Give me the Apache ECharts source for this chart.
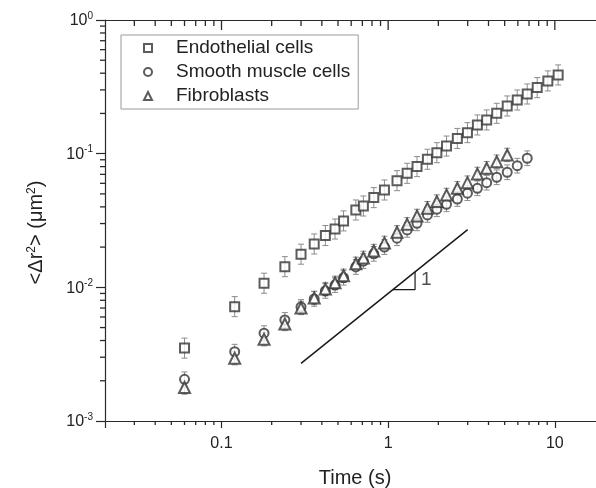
<!DOCTYPE html>
<html><head><meta charset="utf-8">
<script src="https://cdn.jsdelivr.net/npm/echarts@6/dist/echarts.min.js"></script>
<style>html,body{margin:0;padding:0;background:#fff}#c{width:596px;height:488px}</style>
</head><body><div id="c"></div>
<script>
// ---- data ----
const times = [0.06, 0.12, 0.18, 0.24, 0.30, 0.36, 0.42, 0.48, 0.54, 0.64, 0.71, 0.82, 0.95, 1.13, 1.3, 1.49, 1.72, 1.96, 2.24, 2.6, 2.99, 3.43, 3.9, 4.48, 5.18, 5.95, 6.83, 7.84, 9.08, 10.47];
const endothelial = [0.00351, 0.00717, 0.01073, 0.01428, 0.0177, 0.0211, 0.0244, 0.0273, 0.0314, 0.0379, 0.0406, 0.0469, 0.0535, 0.0628, 0.0713, 0.080, 0.0908, 0.1017, 0.114, 0.130, 0.1436, 0.164, 0.1787, 0.2004, 0.2274, 0.252, 0.2796, 0.312, 0.350, 0.388];
const smoothMuscle = [0.00205, 0.0033, 0.00454, 0.0057, 0.00713, 0.00819, 0.0094, 0.0104, 0.0118, 0.0142, 0.0157, 0.0178, 0.0200, 0.0233, 0.0269, 0.0301, 0.0348, 0.0384, 0.0418, 0.0458, 0.0506, 0.0551, 0.0607, 0.0666, 0.0726, 0.0813, 0.0924];
const fibroblasts = [0.00178, 0.00295, 0.00409, 0.00532, 0.00701, 0.00833, 0.0097, 0.0108, 0.0122, 0.0150, 0.0166, 0.0187, 0.0215, 0.0258, 0.0296, 0.0342, 0.0391, 0.0438, 0.0491, 0.0551, 0.0607, 0.0705, 0.0778, 0.0871, 0.0978];
// error bar half-widths, in decades
const errEndothelial = 0.075;
const errSmoothMuscle = 0.055;
const errFibroblasts = 0.05;
const seriesNames = ['Endothelial cells', 'Smooth muscle cells', 'Fibroblasts'];
const slopeLine = [[0.3, 0.0027], [3, 0.027]];
const slopeTriangle = [[1.07, 0.0096], [1.45, 0.0096], [1.45, 0.0131]];
const slopeLabel = [[1.45, 0.0113]];
const xMin = 0.02, xMax = 20, yMin = 0.001, yMax = 1;
const xTickLabels = {0.1: '0.1', 1: '1', 10: '10'};
const xMajorTicks = [0.1, 1, 10];

const xMinorTicks = [];
[0.01, 0.1, 1, 10].forEach(d => { for (let k = 2; k <= 9; k++) { const v = +(k * d).toPrecision(3); if (v > xMin && v < xMax) xMinorTicks.push(v); } });
const yMinorTicks = [];
[0.001, 0.01, 0.1].forEach(d => { for (let k = 2; k <= 9; k++) { const v = +(k * d).toPrecision(3); if (v > yMin && v < yMax) yMinorTicks.push(v); } });

const FONT = '"Liberation Sans", Arial, sans-serif';
const AX = '#2a2a2a';
const SYM = '#333';

function errSeries(vals, err) {
  return {
    type: 'custom', silent: true, z: 1, clip: false,
    encode: {x: 0, y: 1},
    data: vals.map((v, i) => [times[i], v, err]),
    renderItem: function (params, api) {
      const t = api.value(0), v = api.value(1), e = api.value(2);
      const hi = api.coord([t, v * Math.pow(10, e)]);
      const lo = api.coord([t, v / Math.pow(10, e)]);
      const w = 3;
      const style = {stroke: '#8c8c8c', lineWidth: 1, fill: null};
      return {type: 'group', children: [
        {type: 'line', shape: {x1: lo[0], y1: lo[1], x2: hi[0], y2: hi[1]}, style: style},
        {type: 'line', shape: {x1: lo[0] - w, y1: lo[1], x2: lo[0] + w, y2: lo[1]}, style: style},
        {type: 'line', shape: {x1: hi[0] - w, y1: hi[1], x2: hi[0] + w, y2: hi[1]}, style: style}
      ]};
    }
  };
}

// tick marks drawn as tiny rect symbols placed on the axes by the chart's own scales
function tickSeries(points, size, offset) {
  return {
    type: 'scatter', silent: true, z: 6, clip: false,
    symbol: 'rect', symbolSize: size, symbolOffset: offset,
    itemStyle: {color: AX, opacity: 1},
    emphasis: {disabled: true},
    data: points
  };
}

const chart = echarts.init(document.getElementById('c'), null, {renderer: 'canvas'});
chart.setOption({
  animation: false,
  backgroundColor: '#fff',
  textStyle: {fontFamily: FONT},
  grid: {left: 105, right: -9, top: 20, bottom: 67, containLabel: false, outerBoundsMode: 'none'},
  legend: {
    data: seriesNames,
    orient: 'vertical',
    left: 121, top: 35,
    itemWidth: 8, itemHeight: 8, itemGap: 4,
    padding: [3, 8, 3, 22],
    borderColor: '#9a9a9a', borderWidth: 1,
    textStyle: {fontFamily: FONT, fontSize: 19, color: '#222', lineHeight: 20, padding: [0, 0, 0, 19]},
    selectedMode: false
  },
  xAxis: [{
    type: 'log', min: xMin, max: xMax, position: 'bottom',
    name: 'Time (s)', nameLocation: 'middle', nameGap: 47,
    nameTextStyle: {fontFamily: FONT, fontSize: 20, color: '#222'},
    axisLine: {show: true, lineStyle: {color: AX, width: 1.2}},
    axisTick: {show: true, inside: false, length: 7, lineStyle: {color: AX, width: 1.2}},
    axisLabel: {show: true, margin: 15, fontFamily: FONT, fontSize: 16, color: '#222',
      formatter: v => xTickLabels[+Number(v).toPrecision(3)] || ''},
    splitLine: {show: false}
  }, {
    type: 'log', min: xMin, max: xMax, position: 'top',
    axisLine: {show: true, lineStyle: {color: AX, width: 1.2}},
    axisTick: {show: false},
    axisLabel: {show: false},
    splitLine: {show: false}
  }],
  yAxis: [{
    type: 'log', min: yMin, max: yMax,
    name: '<Δr{s|2}> (μm{s|2})', nameLocation: 'middle', nameGap: 58, nameRotate: 90,
    nameTextStyle: {fontFamily: FONT, fontSize: 20, color: '#222', padding: [0, 24, 0, 0],
      rich: {s: {fontFamily: FONT, fontSize: 12, color: '#222', verticalAlign: 'bottom', padding: [0, 0, 9, 0]}}},
    axisLine: {show: true, lineStyle: {color: AX, width: 1.2}},
    axisTick: {show: true, inside: false, length: 9, lineStyle: {color: AX, width: 1.2}},
    axisLabel: {show: true, margin: 12,
      formatter: v => '{b|10}{s|' + Math.round(Math.log10(v)) + '}',
      rich: {
        b: {fontFamily: FONT, fontSize: 16, color: '#222', verticalAlign: 'bottom'},
        s: {fontFamily: FONT, fontSize: 10, color: '#222', verticalAlign: 'bottom', padding: [0, 0, 8, 0]}
      }},
    splitLine: {show: false}
  }],
  series: [
    errSeries(endothelial, errEndothelial),
    errSeries(smoothMuscle, errSmoothMuscle),
    errSeries(fibroblasts, errFibroblasts),
    {
      type: 'scatter', name: seriesNames[0], z: 3,
      symbol: 'emptyRect', symbolSize: 9,
      itemStyle: {color: SYM, borderColor: SYM, borderWidth: 1.2},
      data: endothelial.map((v, i) => [times[i], v])
    },
    {
      type: 'scatter', name: seriesNames[1], z: 3,
      symbol: 'emptyCircle', symbolSize: 9,
      itemStyle: {color: SYM, borderColor: SYM, borderWidth: 1.2},
      data: smoothMuscle.map((v, i) => [times[i], v])
    },
    {
      type: 'scatter', name: seriesNames[2], z: 4,
      symbol: 'emptyTriangle', symbolSize: 11,
      itemStyle: {color: SYM, borderColor: SYM, borderWidth: 1.2},
      data: fibroblasts.map((v, i) => [times[i], v])
    },
    {
      type: 'line', symbol: 'none', z: 2,
      lineStyle: {color: '#1a1a1a', width: 1.5},
      data: slopeLine
    },
    {
      type: 'line', symbol: 'none', z: 2,
      lineStyle: {color: '#1a1a1a', width: 1.2},
      data: slopeTriangle
    },
    {
      type: 'scatter', symbolSize: 0, z: 2,
      label: {show: true, position: 'right', distance: 6, formatter: '1',
        fontFamily: FONT, fontSize: 19, color: '#222'},
      data: slopeLabel
    },
    // minor ticks, bottom axis (outward)
    tickSeries(xMinorTicks.map(t => [t, yMin]), [1.3, 4], [0, 2]),
    // minor ticks, top axis (inward)
    tickSeries(xMinorTicks.map(t => [t, yMax]), [1.3, 6], [0, 3]),
    // major ticks, top axis (inward)
    tickSeries(xMajorTicks.map(t => [t, yMax]), [1.3, 10], [0, 5]),
    // minor ticks, left axis (outward)
    tickSeries(yMinorTicks.map(v => [xMin, v]), [5, 1.3], [-2.5, 0])
  ]
});
</script>
</body></html>
